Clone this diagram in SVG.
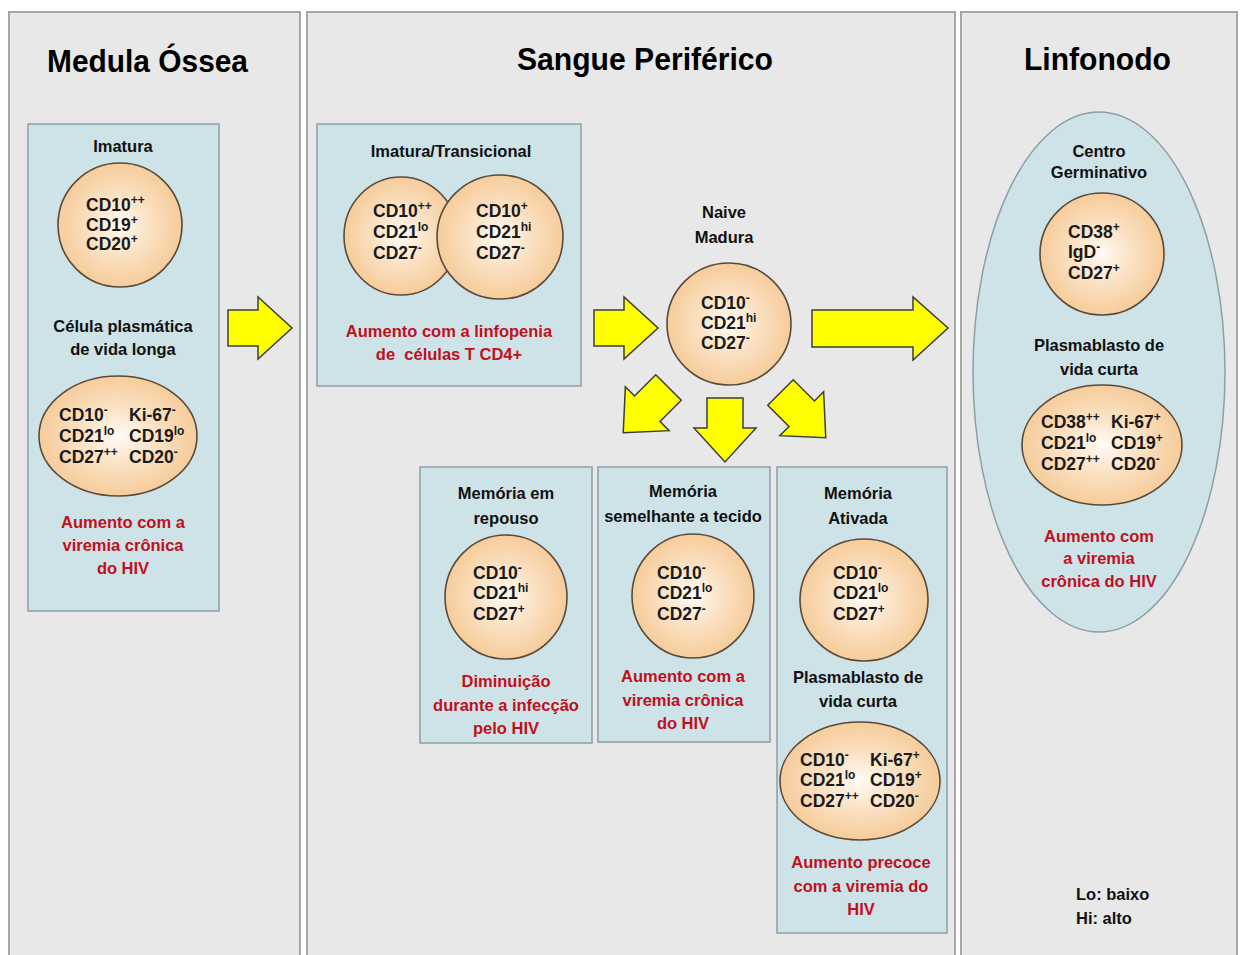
<svg xmlns="http://www.w3.org/2000/svg" width="1241" height="955" viewBox="0 0 1241 955">
<style>
text{font-family:"Liberation Sans",Arial,sans-serif;}
.panel{fill:#e8e8e9;stroke:#a6a6a6;stroke-width:2;}
.box{fill:#cee3e8;stroke:#8c9fa4;stroke-width:1.5;}
.cell{fill:url(#cellg);stroke:#5a4a3a;stroke-width:1.6;}
.title{font-size:31px;font-weight:bold;fill:#000;text-anchor:middle;}
.lbl{font-size:16.5px;font-weight:bold;fill:#111;text-anchor:middle;}
.red{font-size:16.5px;font-weight:bold;fill:#c0101c;text-anchor:middle;}
.m{font-size:17.5px;font-weight:bold;fill:#1a1a1a;}
.s{font-size:12px;}
.arr{fill:#ffff00;stroke:#3d3d3d;stroke-width:1.5;stroke-linejoin:miter;}
</style>
<defs>
<radialGradient id="cellg" cx="50%" cy="50%" r="50%">
<stop offset="0" stop-color="#fffbf5"/>
<stop offset="0.45" stop-color="#fbe3c6"/>
<stop offset="1" stop-color="#f6cc9b"/>
</radialGradient>
<path id="ar" d="M0,-18 L30,-18 L30,-31 L64,0 L30,31 L30,18 L0,18 Z"/>
</defs>
<rect width="1241" height="955" fill="#ffffff"/>

<g id="panel-medula">
<rect class="panel" x="9" y="12" width="291" height="950"/>
<text class="title" x="147.5" y="72" textLength="201" lengthAdjust="spacingAndGlyphs">Medula Óssea</text>
</g>
<g id="panel-sangue">
<rect class="panel" x="307" y="12" width="648" height="950"/>
<text class="title" x="645" y="70" textLength="256" lengthAdjust="spacingAndGlyphs">Sangue Periférico</text>
</g>
<g id="panel-linfonodo">
<rect class="panel" x="961" y="12" width="276" height="950"/>
<text class="title" x="1097.5" y="70" textLength="147" lengthAdjust="spacingAndGlyphs">Linfonodo</text>
</g>

<g id="box-medula">
<rect class="box" x="28" y="124" width="191" height="487"/>
</g>
<g id="node-imatura">
<text class="lbl" x="123" y="152">Imatura</text>
<ellipse class="cell" cx="120" cy="225" rx="62" ry="62"/>
<text class="m" x="86" y="211">CD10<tspan class="s" dy="-7">++</tspan></text>
<text class="m" x="86" y="231">CD19<tspan class="s" dy="-7">+</tspan></text>
<text class="m" x="86" y="250">CD20<tspan class="s" dy="-7">+</tspan></text>
</g>
<g id="node-plasma-longa">
<text class="lbl" x="123" y="332">Célula plasmática</text>
<text class="lbl" x="123" y="355">de vida longa</text>
<ellipse class="cell" cx="118" cy="436" rx="79" ry="60"/>
<text class="m" x="59" y="421">CD10<tspan class="s" dy="-7">-</tspan></text>
<text class="m" x="59" y="442">CD21<tspan class="s" dy="-7">lo</tspan></text>
<text class="m" x="59" y="463">CD27<tspan class="s" dy="-7">++</tspan></text>
<text class="m" x="129" y="421">Ki-67<tspan class="s" dy="-7">-</tspan></text>
<text class="m" x="129" y="442">CD19<tspan class="s" dy="-7">lo</tspan></text>
<text class="m" x="129" y="463">CD20<tspan class="s" dy="-7">-</tspan></text>
<text class="red" x="123" y="528">Aumento com a</text>
<text class="red" x="123" y="551">viremia crônica</text>
<text class="red" x="123" y="574">do HIV</text>
</g>

<g id="node-transicional">
<rect class="box" x="317" y="124" width="264" height="262"/>
<text class="lbl" x="451" y="157">Imatura/Transicional</text>
<ellipse class="cell" cx="401" cy="236" rx="57" ry="59"/>
<ellipse class="cell" cx="500" cy="237" rx="63" ry="62"/>
<text class="m" x="373" y="217">CD10<tspan class="s" dy="-7">++</tspan></text>
<text class="m" x="373" y="238">CD21<tspan class="s" dy="-7">lo</tspan></text>
<text class="m" x="373" y="259">CD27<tspan class="s" dy="-7">-</tspan></text>
<text class="m" x="476" y="217">CD10<tspan class="s" dy="-7">+</tspan></text>
<text class="m" x="476" y="238">CD21<tspan class="s" dy="-7">hi</tspan></text>
<text class="m" x="476" y="259">CD27<tspan class="s" dy="-7">-</tspan></text>
<text class="red" x="449" y="337">Aumento com a linfopenia</text>
<text class="red" x="449" y="360" xml:space="preserve">de  células T CD4+</text>
</g>

<g id="node-naive">
<text class="lbl" x="724" y="218">Naive</text>
<text class="lbl" x="724" y="243">Madura</text>
<ellipse class="cell" cx="729" cy="324" rx="62" ry="61"/>
<text class="m" x="701" y="309">CD10<tspan class="s" dy="-7">-</tspan></text>
<text class="m" x="701" y="329">CD21<tspan class="s" dy="-7">hi</tspan></text>
<text class="m" x="701" y="349">CD27<tspan class="s" dy="-7">-</tspan></text>
</g>

<g id="node-mem-repouso">
<rect class="box" x="420" y="467" width="172" height="276"/>
<text class="lbl" x="506" y="499">Memória em</text>
<text class="lbl" x="506" y="524">repouso</text>
<ellipse class="cell" cx="506" cy="597" rx="61" ry="62"/>
<text class="m" x="473" y="579">CD10<tspan class="s" dy="-7">-</tspan></text>
<text class="m" x="473" y="599">CD21<tspan class="s" dy="-7">hi</tspan></text>
<text class="m" x="473" y="620">CD27<tspan class="s" dy="-7">+</tspan></text>
<text class="red" x="506" y="687">Diminuição</text>
<text class="red" x="506" y="711">durante a infecção</text>
<text class="red" x="506" y="734">pelo HIV</text>
</g>

<g id="node-mem-tecido">
<rect class="box" x="598" y="467" width="172" height="275"/>
<text class="lbl" x="683" y="497">Memória</text>
<text class="lbl" x="683" y="522">semelhante a tecido</text>
<ellipse class="cell" cx="693" cy="596" rx="61" ry="62"/>
<text class="m" x="657" y="579">CD10<tspan class="s" dy="-7">-</tspan></text>
<text class="m" x="657" y="599">CD21<tspan class="s" dy="-7">lo</tspan></text>
<text class="m" x="657" y="620">CD27<tspan class="s" dy="-7">-</tspan></text>
<text class="red" x="683" y="682">Aumento com a</text>
<text class="red" x="683" y="706">viremia crônica</text>
<text class="red" x="683" y="729">do HIV</text>
</g>

<g id="node-mem-ativada">
<rect class="box" x="777" y="467" width="170" height="466"/>
<text class="lbl" x="858" y="499">Memória</text>
<text class="lbl" x="858" y="524">Ativada</text>
<ellipse class="cell" cx="864" cy="600" rx="64" ry="61"/>
<text class="m" x="833" y="579">CD10<tspan class="s" dy="-7">-</tspan></text>
<text class="m" x="833" y="599">CD21<tspan class="s" dy="-7">lo</tspan></text>
<text class="m" x="833" y="620">CD27<tspan class="s" dy="-7">+</tspan></text>
<text class="lbl" x="858" y="683">Plasmablasto de</text>
<text class="lbl" x="858" y="707">vida curta</text>
<ellipse class="cell" cx="860" cy="781" rx="80" ry="59"/>
<text class="m" x="800" y="766">CD10<tspan class="s" dy="-7">-</tspan></text>
<text class="m" x="800" y="786">CD21<tspan class="s" dy="-7">lo</tspan></text>
<text class="m" x="800" y="807">CD27<tspan class="s" dy="-7">++</tspan></text>
<text class="m" x="870" y="766">Ki-67<tspan class="s" dy="-7">+</tspan></text>
<text class="m" x="870" y="786">CD19<tspan class="s" dy="-7">+</tspan></text>
<text class="m" x="870" y="807">CD20<tspan class="s" dy="-7">-</tspan></text>
<text class="red" x="861" y="868">Aumento precoce</text>
<text class="red" x="861" y="892">com a viremia do</text>
<text class="red" x="861" y="915">HIV</text>
</g>

<g id="box-linfonodo">
<ellipse class="box" cx="1099" cy="372" rx="126" ry="260"/>
</g>
<g id="node-gc">
<text class="lbl" x="1099" y="157">Centro</text>
<text class="lbl" x="1099" y="178">Germinativo</text>
<ellipse class="cell" cx="1102" cy="254" rx="62" ry="61"/>
<text class="m" x="1068" y="238">CD38<tspan class="s" dy="-7">+</tspan></text>
<text class="m" x="1068" y="258">IgD<tspan class="s" dy="-7">-</tspan></text>
<text class="m" x="1068" y="279">CD27<tspan class="s" dy="-7">+</tspan></text>
</g>
<g id="node-plasmablasto-ln">
<text class="lbl" x="1099" y="351">Plasmablasto de</text>
<text class="lbl" x="1099" y="375">vida curta</text>
<ellipse class="cell" cx="1102" cy="445" rx="80" ry="60"/>
<text class="m" x="1041" y="428">CD38<tspan class="s" dy="-7">++</tspan></text>
<text class="m" x="1041" y="449">CD21<tspan class="s" dy="-7">lo</tspan></text>
<text class="m" x="1041" y="470">CD27<tspan class="s" dy="-7">++</tspan></text>
<text class="m" x="1111" y="428">Ki-67<tspan class="s" dy="-7">+</tspan></text>
<text class="m" x="1111" y="449">CD19<tspan class="s" dy="-7">+</tspan></text>
<text class="m" x="1111" y="470">CD20<tspan class="s" dy="-7">-</tspan></text>
<text class="red" x="1099" y="542">Aumento com</text>
<text class="red" x="1099" y="564">a viremia</text>
<text class="red" x="1099" y="587">crônica do HIV</text>
</g>

<g id="legend">
<text class="lbl" x="1076" y="900" style="text-anchor:start">Lo: baixo</text>
<text class="lbl" x="1076" y="924" style="text-anchor:start">Hi: alto</text>
</g>

<g id="connectors">
<use href="#ar" class="arr" transform="translate(228,328)"/>
<use href="#ar" class="arr" transform="translate(594,328)"/>
<path class="arr" d="M812,310 L913,310 L913,297 L948,328 L913,360 L913,347 L812,347 Z"/>
<use href="#ar" class="arr" transform="translate(668.5,387.5) rotate(135)"/>
<use href="#ar" class="arr" transform="translate(725,398) rotate(90)"/>
<use href="#ar" class="arr" transform="translate(780.5,392.5) rotate(45)"/>
</g>
</svg>
